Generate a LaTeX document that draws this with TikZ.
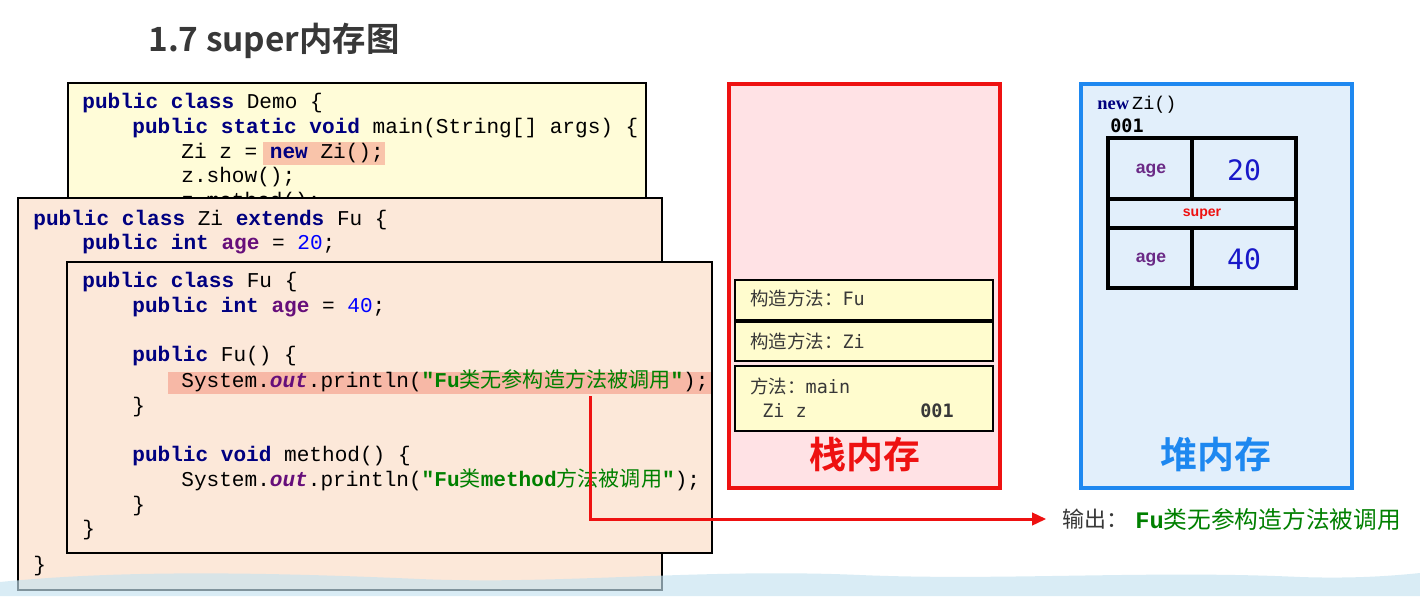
\documentclass[tikz,border=0pt]{standalone}
\usepackage{fontspec}
\setmainfont{Liberation Serif}
\setsansfont{Liberation Sans}
\setmonofont{Liberation Mono}
\newfontfamily\cjk{Noto Sans CJK SC}[BoldFont={Noto Sans CJK SC Bold}]
\newfontfamily\dmono{DejaVu Sans Mono}
\usetikzlibrary{arrows.meta}

\definecolor{kwblue}{HTML}{000080}
\definecolor{fldpurple}{HTML}{660E7A}
\definecolor{numblue}{HTML}{0000FF}
\definecolor{strgreen}{HTML}{008000}
\definecolor{titlegray}{HTML}{383838}
\definecolor{demoyellow}{HTML}{FFFCD8}
\definecolor{peach}{HTML}{FCE8D9}
\definecolor{hlsalmon}{HTML}{F9C4AA}
\definecolor{hlsalmontwo}{HTML}{F7B8A6}
\definecolor{stackpink}{HTML}{FFE2E5}
\definecolor{stackred}{HTML}{EE1111}
\definecolor{frameyellow}{HTML}{FFFCCE}
\definecolor{heapblue}{HTML}{E2EFFB}
\definecolor{heapborder}{HTML}{1E88F0}
\definecolor{agepurple}{HTML}{6B2A86}
\definecolor{valblue}{HTML}{1818C8}
\definecolor{wave}{HTML}{C6E3F0}

% code colouring
\newcommand\kw[1]{{\bfseries\color{kwblue}#1}}
\newcommand\fld[1]{{\bfseries\color{fldpurple}#1}}
\newcommand\num[1]{{\color{numblue}#1}}
\newcommand\stfld[1]{{\bfseries\itshape\color{fldpurple}#1}}
\newcommand\jstr[1]{{\bfseries\color{strgreen}#1}}
\newcommand\zh[1]{{\cjk\mdseries #1}}

\tikzset{
  code/.style={anchor=base west,inner sep=0pt,font=\ttfamily\fontsize{12}{14}\selectfont},
  classbox/.style={draw=black,line width=1.1pt},
  framebox/.style={fill=frameyellow,draw=black,line width=1.1pt},
  frametxt/.style={anchor=base west,inner sep=0pt,text=titlegray,font=\fontsize{10.5}{12}\selectfont},
  memlabel/.style={inner sep=0pt,font=\cjk\bfseries\fontsize{21}{24}\selectfont},
  agetxt/.style={inner sep=0pt,text=agepurple,font=\sffamily\bfseries\fontsize{10}{12}\selectfont},
  valtxt/.style={inner sep=0pt,text=valblue,font=\dmono\fontsize{16}{18}\selectfont},
}

\begin{document}
\begin{tikzpicture}[x=0.02cm,y=-0.02cm]
\useasboundingbox (0,0) rectangle (1420,596);
\fill[white] (0,0) rectangle (1420,596);

% title
\node[anchor=base west,inner sep=0pt,text=titlegray,font=\cjk\bfseries\fontsize{19}{22}\selectfont] (title) at (148,51) {1.7 super内存图};

% class Demo
\fill[demoyellow] (68,83) rectangle (646,205);
\fill[hlsalmon] (263,142) rectangle (385,165);
\draw[classbox] (68,83) rectangle (646,205);
\node[code] (demo1) at (82,108) {\kw{public class} Demo \{};
\node[code] (demo2) at (132,133) {\kw{public static void} main(String[] args) \{};
\node[code] (demo3) at (181,158) {Zi z = \kw{new} Zi();};
\node[code] (demo4) at (181,182) {z.show();};
\begin{scope}
  \clip (68,83) rectangle (646,198);
  \node[code] (demo5) at (181,207) {z.method();};
\end{scope}

% class Zi
\filldraw[classbox,fill=peach] (18,198) rectangle (662,590);
\node[code] (zi1) at (33,225) {\kw{public class} Zi \kw{extends} Fu \{};
\node[code] (zi2) at (82,249) {\kw{public int} \fld{age} = \num{20};};
\node[code] (zi3) at (33,571) {\}};

% class Fu
\fill[peach] (67,262) rectangle (712,553);
\fill[hlsalmontwo] (168,372) rectangle (712,394);
\draw[classbox] (67,262) rectangle (712,553);
\node[code] (fu1) at (82,287) {\kw{public class} Fu \{};
\node[code] (fu2) at (132,312) {\kw{public int} \fld{age} = \num{40};};
\node[code] (fu3) at (132,361) {\kw{public} Fu() \{};
\node[code] (fu4) at (181,387) {System.\stfld{out}.println(\jstr{"Fu\zh{类无参构造方法被调用}"});};
\node[code] (fu5) at (132,412) {\}};
\node[code] (fu6) at (132,461) {\kw{public void} method() \{};
\node[code] (fu7) at (181,486) {System.\stfld{out}.println(\jstr{"Fu\zh{类}method\zh{方法被调用}"});};
\node[code] (fu8) at (132,511) {\}};
\node[code] (fu9) at (82,535) {\}};

% stack
\filldraw[fill=stackpink,draw=stackred,line width=2.4pt] (729,84) rectangle (1000,488);
\draw[framebox] (735,280) rectangle (993,320);
\draw[framebox] (735,322) rectangle (993,361);
\draw[framebox] (735,366) rectangle (993,431);
\node[frametxt] (frfu) at (750,305) {\cjk 构造方法：{\dmono Fu}};
\node[frametxt] (frzi) at (750,348) {\cjk 构造方法：{\dmono Zi}};
\node[frametxt] (frmain) at (750,393) {\cjk 方法：{\dmono main}};
\node[frametxt] (frvar) at (762,417) {\dmono Zi z};
\node[frametxt] (fraddr) at (920,417) {\dmono\bfseries 001};
\node[memlabel,text=stackred] (stacklbl) at (865,455) {栈内存};

% heap
\filldraw[fill=heapblue,draw=heapborder,line width=2.4pt] (1081,84) rectangle (1352,488);
\node[anchor=base west,inner sep=0pt,font=\fontsize{10.5}{12}\selectfont] (newzi) at (1097,109) {\textbf{\color{kwblue}new}\,{\ttfamily Zi()}};
\node[anchor=base west,inner sep=0pt,font=\dmono\bfseries\fontsize{10.5}{12}\selectfont] (objaddr) at (1110,132) {001};
\draw[line width=2.8pt] (1108,138) rectangle (1296,288);
\draw[line width=2.4pt] (1108,199) -- (1296,199);
\draw[line width=2.4pt] (1108,228) -- (1296,228);
\draw[line width=2.4pt] (1192,138) -- (1192,199);
\draw[line width=2.4pt] (1192,228) -- (1192,288);
\node[agetxt] (ziage) at (1151,171) {age};
\node[valtxt] (zival) at (1244,170) {20};
\node[inner sep=0pt,text=stackred,font=\sffamily\bfseries\fontsize{8}{10}\selectfont] (superlbl) at (1202,214) {super};
\node[agetxt] (fuage) at (1151,260) {age};
\node[valtxt] (fuval) at (1244,259) {40};
\node[memlabel,text=heapborder] (heaplbl) at (1216,455) {堆内存};

% output of Fu()
\coordinate (arrstart) at (590,396);
\node[anchor=west,inner sep=0pt,text=titlegray,font=\cjk\fontsize{12.5}{14}\selectfont] (outlbl) at (1062,519) {输出：};
\node[anchor=west,inner sep=0pt,text=strgreen,font=\fontsize{13.5}{15}\selectfont] (outmsg) at (1135,519) {{\ttfamily\bfseries Fu}{\cjk 类无参构造方法被调用}};
\draw[stackred,line width=1.7pt,shorten >=9pt,-{Triangle[length=8pt,width=7pt]}] (arrstart) |- (outlbl.west);

% wave at the bottom
\fill[wave,opacity=0.65] (0,582) .. controls (120,570) and (260,572) .. (420,579)
  .. controls (560,585) and (700,568) .. (860,575) .. controls (1000,581) and (1150,570) .. (1300,577)
  .. controls (1360,579) and (1400,575) .. (1420,573) -- (1420,596) -- (0,596) -- cycle;
\end{tikzpicture}
\end{document}
